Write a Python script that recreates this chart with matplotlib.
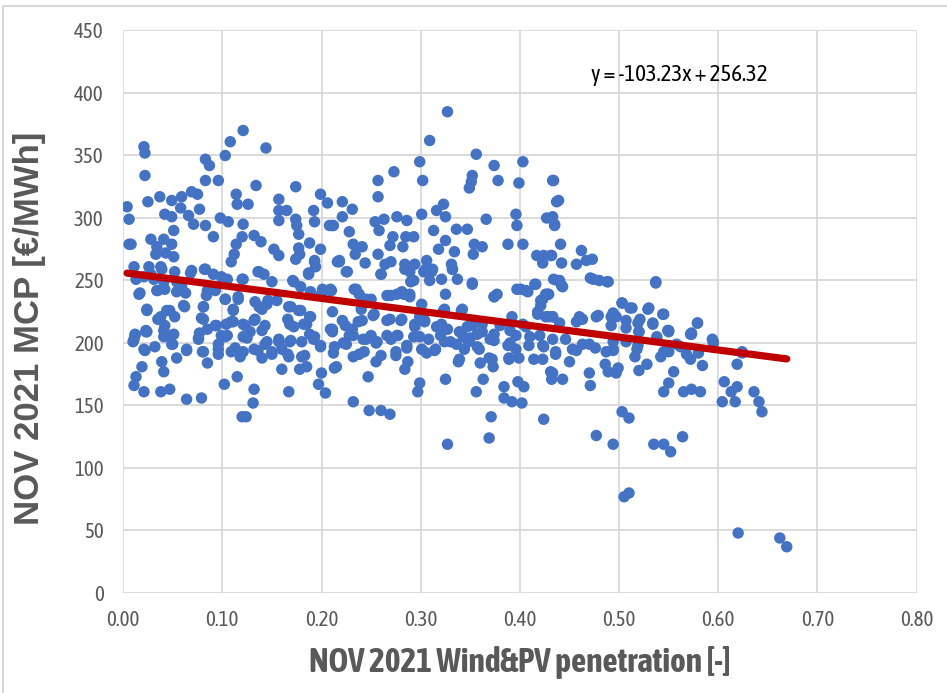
import numpy as np
import matplotlib
matplotlib.use("Agg")
import matplotlib.pyplot as plt
from matplotlib.patches import Rectangle

# hourly market clearing price vs. wind+PV share, November 2021
penetration = [
    0.121, 0.021, 0.022, 0.022, 0.108, 0.103, 0.144, 0.083, 0.087, 0.083,
    0.096, 0.134, 0.174, 0.025, 0.037, 0.049, 0.059, 0.069, 0.075, 0.114,
    0.115, 0.126, 0.077, 0.058, 0.004, 0.006, 0.042, 0.049, 0.066, 0.071,
    0.083, 0.098, 0.106, 0.121, 0.051, 0.091, 0.157, 0.165, 0.157, 0.157,
    0.174, 0.175, 0.177, 0.192, 0.193, 0.199, 0.206, 0.208, 0.212, 0.120,
    0.132, 0.139, 0.028, 0.006, 0.008, 0.041, 0.049, 0.034, 0.033, 0.043,
    0.051, 0.114, 0.112, 0.109, 0.152, 0.157, 0.177, 0.178, 0.188, 0.199,
    0.193, 0.194, 0.187, 0.216, 0.137, 0.142, 0.011, 0.013, 0.026, 0.038,
    0.021, 0.031, 0.041, 0.054, 0.068, 0.083, 0.091, 0.105, 0.121, 0.017,
    0.034, 0.054, 0.063, 0.085, 0.171, 0.179, 0.209, 0.200, 0.024, 0.038,
    0.047, 0.062, 0.081, 0.079, 0.094, 0.103, 0.111, 0.116, 0.111, 0.121,
    0.132, 0.137, 0.145, 0.155, 0.167, 0.177, 0.188, 0.168, 0.182, 0.209,
    0.023, 0.012, 0.041, 0.051, 0.077, 0.085, 0.105, 0.128, 0.140, 0.188,
    0.011, 0.023, 0.021, 0.019, 0.013, 0.011, 0.021, 0.038, 0.047, 0.064,
    0.079, 0.041, 0.049, 0.039, 0.041, 0.054, 0.064, 0.076, 0.081, 0.085,
    0.096, 0.103, 0.096, 0.113, 0.118, 0.125, 0.132, 0.140, 0.143, 0.150,
    0.102, 0.115, 0.132, 0.131, 0.120, 0.124, 0.160, 0.167, 0.157, 0.168,
    0.167, 0.180, 0.178, 0.185, 0.192, 0.199, 0.200, 0.197, 0.204, 0.212,
    0.215,
    0.327, 0.309, 0.356, 0.374, 0.403, 0.299, 0.302, 0.273, 0.257, 0.257,
    0.352, 0.351, 0.349, 0.378, 0.399, 0.434, 0.437, 0.221, 0.221, 0.231,
    0.211, 0.228, 0.254, 0.263, 0.276, 0.286, 0.301, 0.316, 0.323, 0.325,
    0.313, 0.336, 0.347, 0.366, 0.396, 0.397, 0.427, 0.435, 0.258, 0.272,
    0.285, 0.293, 0.269, 0.282, 0.232, 0.241, 0.234, 0.244, 0.218, 0.225,
    0.257, 0.260, 0.264, 0.325, 0.318, 0.334, 0.331, 0.332, 0.337, 0.284,
    0.294, 0.289, 0.306, 0.303, 0.311, 0.290, 0.309, 0.321, 0.325, 0.354,
    0.362, 0.353, 0.388, 0.403, 0.352, 0.374, 0.377, 0.397, 0.406, 0.416,
    0.417, 0.424, 0.431, 0.423, 0.434, 0.428, 0.421, 0.210, 0.233, 0.238,
    0.245, 0.266, 0.276, 0.283, 0.289, 0.301, 0.211, 0.221, 0.231, 0.241,
    0.252, 0.266, 0.280, 0.294, 0.304, 0.321, 0.323, 0.341, 0.347, 0.355,
    0.362, 0.380, 0.392, 0.403, 0.418, 0.429, 0.211, 0.228, 0.266, 0.299,
    0.320, 0.343, 0.357, 0.396, 0.410,
    0.327, 0.369, 0.371, 0.424, 0.232, 0.248, 0.260, 0.269, 0.247, 0.255,
    0.232, 0.238, 0.213, 0.275, 0.284, 0.287, 0.286, 0.297, 0.299, 0.306,
    0.315, 0.325, 0.338, 0.330, 0.356, 0.363, 0.360, 0.373, 0.372, 0.384,
    0.384, 0.392, 0.402, 0.398, 0.404, 0.389, 0.399, 0.414, 0.431, 0.432,
    0.222, 0.245, 0.255, 0.276, 0.293, 0.350, 0.370, 0.390, 0.424, 0.213,
    0.344, 0.357,
    0.433, 0.439, 0.433, 0.435, 0.441, 0.432, 0.442, 0.462, 0.457, 0.467,
    0.473, 0.438, 0.443, 0.471, 0.480, 0.488, 0.537, 0.503, 0.511, 0.530,
    0.545, 0.579, 0.573, 0.534, 0.550, 0.521, 0.494, 0.477, 0.463, 0.457,
    0.429, 0.433, 0.440, 0.492, 0.507, 0.594,
    0.669, 0.662, 0.620, 0.505, 0.510, 0.477, 0.494, 0.503, 0.510, 0.535,
    0.545, 0.552, 0.564, 0.644, 0.641, 0.636, 0.617, 0.604, 0.606, 0.619,
    0.613, 0.619, 0.624, 0.584, 0.595, 0.565, 0.573, 0.582, 0.545, 0.550,
    0.555, 0.573, 0.572, 0.580, 0.542, 0.550, 0.528, 0.520, 0.516, 0.519,
    0.538, 0.550, 0.520, 0.499, 0.497, 0.489, 0.486, 0.494, 0.476, 0.463,
    0.470, 0.471, 0.443, 0.433, 0.450, 0.453, 0.436, 0.507, 0.558, 0.568,
    0.016, 0.024, 0.035, 0.044, 0.052, 0.061, 0.042, 0.045, 0.050, 0.012,
    0.024, 0.010, 0.022, 0.032, 0.064, 0.076, 0.081, 0.081, 0.084, 0.093,
    0.093, 0.099, 0.104, 0.109, 0.111, 0.103, 0.116, 0.080, 0.096, 0.109,
    0.121, 0.123, 0.121, 0.133, 0.140, 0.133, 0.146, 0.143, 0.145, 0.157,
    0.136, 0.150, 0.160, 0.028, 0.039, 0.052, 0.069, 0.082, 0.099, 0.120,
    0.136, 0.150, 0.042, 0.059, 0.035,
    0.169, 0.179, 0.189, 0.166, 0.172, 0.185, 0.169, 0.180, 0.193, 0.166,
    0.183, 0.199, 0.211, 0.224, 0.232, 0.237, 0.225, 0.242, 0.250, 0.256,
    0.243, 0.260, 0.275, 0.270, 0.277, 0.286, 0.301, 0.308, 0.316, 0.294,
    0.304, 0.314, 0.324, 0.324, 0.299, 0.281, 0.269, 0.253, 0.240, 0.250,
    0.235, 0.209, 0.201, 0.189, 0.172, 0.270, 0.281, 0.289, 0.270, 0.260,
    0.284, 0.293, 0.305, 0.312, 0.218, 0.226, 0.187, 0.193, 0.174,
    0.332, 0.352, 0.374, 0.401, 0.415, 0.408, 0.423, 0.426, 0.421, 0.442,
    0.440, 0.474, 0.489, 0.418, 0.426, 0.433, 0.460, 0.479, 0.492, 0.342,
    0.327, 0.339, 0.352, 0.362, 0.374, 0.390, 0.406, 0.420, 0.433, 0.446,
    0.336, 0.348, 0.359, 0.374, 0.388, 0.396, 0.409, 0.423, 0.436, 0.457,
    0.470, 0.487, 0.494, 0.339, 0.369, 0.389, 0.423,
    0.537, 0.503, 0.513, 0.529, 0.544, 0.534, 0.519, 0.497, 0.507, 0.549,
    0.572, 0.579, 0.595, 0.562, 0.538, 0.520, 0.624, 0.494, 0.518, 0.545,
]

mcp = [
    370, 357, 352, 334, 361, 350, 356, 347, 342, 330,
    330, 326, 325, 313, 317, 314, 317, 321, 319, 319,
    311, 311, 307, 308, 309, 299, 303, 301, 302, 295,
    294, 300, 297, 295, 290, 285, 315, 306, 306, 298,
    299, 294, 287, 306, 297, 319, 312, 294, 294, 285,
    286, 281, 283, 279, 279, 283, 279, 277, 271, 272,
    269, 279, 271, 265, 275, 270, 276, 271, 280, 275,
    266, 261, 256, 265, 257, 255, 261, 251, 261, 261,
    253, 251, 249, 249, 256, 259, 255, 251, 251, 240,
    242, 241, 240, 242, 250, 245, 242, 239, 227, 221,
    226, 229, 229, 220, 214, 235, 226, 235, 217, 215,
    218, 229, 231, 234, 229, 226, 221, 215, 215, 211,
    210, 207, 210, 207, 208, 211, 206, 209, 210, 207,
    203, 209, 195, 181, 173, 166, 161, 161, 163, 155,
    156, 205, 199, 185, 177, 188, 195, 204, 193, 184,
    199, 205, 191, 196, 189, 204, 195, 188, 199, 191,
    167, 173, 163, 152, 141, 141, 179, 161, 201, 201,
    189, 189, 179, 181, 203, 197, 176, 167, 160, 192,
    181,
    385, 362, 351, 342, 345, 345, 330, 337, 330, 317,
    334, 329, 324, 330, 328, 330, 313, 313, 301, 307,
    294, 289, 297, 299, 301, 298, 303, 306, 311, 301,
    290, 291, 291, 299, 303, 294, 300, 294, 290, 285,
    285, 285, 278, 277, 279, 277, 271, 264, 265, 257,
    271, 255, 263, 282, 275, 273, 263, 259, 251, 263,
    263, 257, 266, 257, 257, 249, 250, 251, 239, 279,
    277, 271, 279, 279, 248, 237, 239, 243, 242, 247,
    270, 270, 270, 264, 251, 239, 234, 242, 243, 239,
    235, 238, 239, 239, 237, 231, 225, 218, 211, 218,
    222, 218, 218, 215, 218, 215, 226, 226, 213, 218,
    215, 214, 221, 215, 225, 221, 209, 206, 206, 205,
    206, 205, 207, 206, 205,
    119, 124, 141, 139, 153, 146, 146, 143, 173, 185,
    189, 191, 180, 193, 179, 185, 196, 161, 168, 192,
    195, 171, 185, 201, 161, 171, 184, 181, 187, 165,
    156, 153, 152, 169, 165, 188, 188, 187, 177, 171,
    200, 203, 200, 206, 205, 204, 203, 200, 197, 197,
    195, 197,
    330, 314, 301, 295, 279, 270, 264, 274, 263, 266,
    267, 250, 245, 252, 250, 249, 249, 232, 228, 228,
    223, 216, 208, 216, 210, 219, 224, 221, 219, 217,
    239, 221, 216, 214, 212, 203,
    37, 44, 48, 77, 80, 126, 119, 145, 140, 119,
    119, 113, 125, 145, 153, 161, 153, 153, 169, 165,
    161, 183, 192, 182, 201, 161, 163, 161, 161, 168,
    177, 207, 187, 192, 189, 193, 183, 178, 189, 198,
    205, 209, 209, 180, 176, 177, 183, 195, 196, 199,
    176, 166, 171, 176, 185, 195, 191, 201, 199, 191,
    239, 226, 219, 226, 221, 230, 214, 206, 199, 206,
    209, 201, 194, 197, 194, 203, 219, 229, 238, 242,
    214, 206, 215, 217, 227, 235, 237, 193, 195, 193,
    193, 214, 205, 219, 227, 233, 234, 214, 201, 203,
    194, 193, 195, 255, 259, 257, 258, 259, 253, 251,
    257, 249, 243, 245, 242,
    229, 226, 221, 219, 213, 215, 202, 201, 205, 191,
    190, 198, 211, 214, 206, 217, 199, 203, 206, 201,
    193, 190, 190, 203, 206, 198, 195, 203, 213, 213,
    217, 194, 201, 227, 221, 219, 219, 223, 227, 235,
    243, 243, 243, 241, 249, 238, 241, 239, 265, 255,
    259, 250, 259, 259, 266, 257, 255, 265, 267,
    259, 247, 237, 243, 247, 241, 235, 239, 230, 246,
    250, 251, 249, 223, 221, 221, 221, 222, 221, 227,
    211, 209, 214, 209, 207, 210, 213, 206, 203, 203,
    199, 201, 195, 202, 198, 195, 198, 198, 193, 194,
    199, 193, 201, 187, 188, 187, 187,
    248, 232, 228, 227, 223, 215, 216, 221, 218, 210,
    207, 216, 200, 197, 203, 209, 193, 194, 195, 193,
]

# linear trendline coefficients
slope = -103.23
intercept = 256.32

x_ticks = [0.0, 0.1, 0.2, 0.3, 0.4, 0.5, 0.6, 0.7, 0.8]
y_ticks = [0, 50, 100, 150, 200, 250, 300, 350, 400, 450]

grey = "#595959"
grid_col = "#D9D9D9"
narrow = ["Asap Condensed", "Liberation Sans"]

fig = plt.figure(figsize=(9.47, 6.93), dpi=100)
ax = fig.add_axes([0.130, 0.1443, 0.838, 0.8117])

x = np.array(penetration)
y = np.array(mcp)
ax.scatter(x, y, s=68, color="#4472C4", edgecolors="none", zorder=3)

xs = np.array([x.min(), x.max()])
ax.plot(xs, slope * xs + intercept, color="#C00000", lw=5.2,
        solid_capstyle="round", zorder=4)

ax.text(0.561, 414, f"y = {slope:.2f}x + {intercept:.2f}", ha="center",
        va="center", fontsize=16.5, family=narrow, color="black")

ax.set_xlim(0, 0.8)
ax.set_ylim(0, 450)
ax.set_xticks(x_ticks)
ax.set_yticks(y_ticks)
ax.set_xticklabels([f"{t:.2f}" for t in x_ticks])
ax.set_yticklabels([str(t) for t in y_ticks])
for lab in ax.get_xticklabels() + ax.get_yticklabels():
    lab.set_family(narrow)
    lab.set_fontsize(15)
    lab.set_color(grey)
ax.tick_params(length=0, pad=12)
ax.tick_params(axis="y", pad=14)

ax.grid(True, color=grid_col, lw=1.3, zorder=0)
ax.set_axisbelow(True)
for side in ["top", "right", "left", "bottom"]:
    ax.spines[side].set_visible(False)

ax.set_xlabel("NOV 2021 Wind&PV penetration [-]", fontsize=24,
              fontweight="bold", family=narrow, color=grey, labelpad=12)
ax.set_ylabel("NOV 2021 MCP [€/MWh]", fontsize=25, fontweight="bold",
              family=["Liberation Sans", "DejaVu Sans"], color=grey)
ax.yaxis.set_label_coords(-0.097, 0.47)

# chart frame
fig.patches.append(Rectangle((0.003, -0.01), 1.0, 1.001, transform=fig.transFigure,
                             fill=False, edgecolor=grid_col, lw=1.5))

fig.savefig("out.png", dpi=100)
